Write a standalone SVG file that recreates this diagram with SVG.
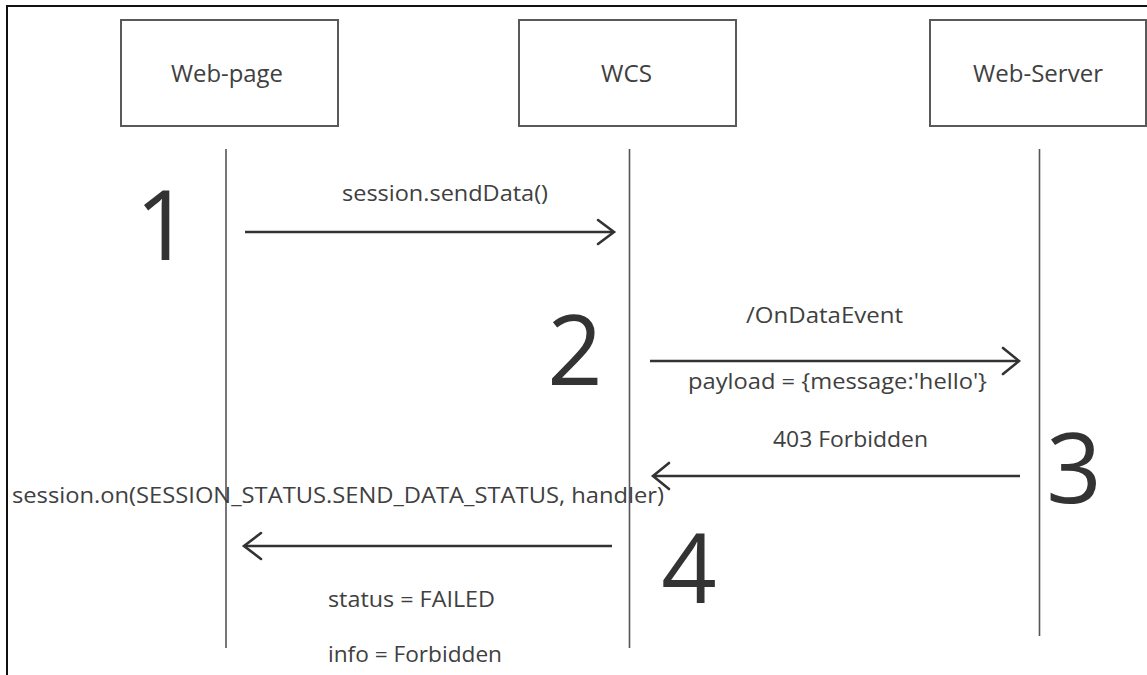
<svg xmlns="http://www.w3.org/2000/svg" width="1147" height="675" viewBox="0 0 1147 675">
<style>
.box{fill:#fff;stroke:#595959;stroke-width:2}
.lbl{font-family:"Open Sans","Noto Sans",sans-serif;font-size:23px;fill:#404040}
.msg{font-family:"Open Sans","Noto Sans",sans-serif;font-size:22px;fill:#404040}
.num{font-family:"Open Sans","Noto Sans",sans-serif;font-size:97px;fill:#333;text-anchor:middle}
.life{stroke:#555;stroke-width:1.6;fill:none}
.arr{stroke:#333;stroke-width:2.6;fill:none}
.head{stroke:#333;stroke-width:2.6;fill:none;stroke-linecap:round;stroke-linejoin:miter}
</style>
<rect x="0" y="0" width="1147" height="675" fill="#fff"/>
<path d="M7 675 V6 H1147" fill="none" stroke="#111" stroke-width="2"/>
<g id="web-page">
<rect class="box" x="121" y="20" width="217" height="106"/>
<text class="lbl" x="171" y="82" textLength="112" lengthAdjust="spacingAndGlyphs">Web-page</text>
<line class="life" x1="226" y1="149" x2="226" y2="648"/>
</g>
<g id="wcs">
<rect class="box" x="519" y="20" width="217" height="106"/>
<text class="lbl" x="601" y="82" textLength="51" lengthAdjust="spacingAndGlyphs">WCS</text>
<line class="life" x1="629.5" y1="149" x2="629.5" y2="648"/>
</g>
<g id="web-server">
<rect class="box" x="930" y="20" width="216" height="106"/>
<text class="lbl" x="973" y="82" textLength="130" lengthAdjust="spacingAndGlyphs">Web-Server</text>
<line class="life" x1="1039.5" y1="149" x2="1039.5" y2="636"/>
</g>
<g id="steps">
<text class="num" x="163" y="260">1</text>
<text class="num" x="575" y="385">2</text>
<text class="num" x="1074" y="503">3</text>
<text class="num" x="689" y="603">4</text>
</g>
<g id="connectors">
<line class="arr" x1="245" y1="232" x2="614" y2="232"/>
<path class="head" d="M598 220 L614 232 L598 244"/>
<line class="arr" x1="650" y1="361" x2="1019" y2="361"/>
<path class="head" d="M1003 348 L1019 361 L1003 374"/>
<line class="arr" x1="1020" y1="476" x2="653" y2="476"/>
<path class="head" d="M669 463 L653 476 L669 489"/>
<line class="arr" x1="612" y1="546" x2="244" y2="546"/>
<path class="head" d="M261 533 L244 546 L261 559"/>
</g>
<g id="labels">
<text class="msg" x="342" y="201" textLength="206" lengthAdjust="spacingAndGlyphs">session.sendData()</text>
<text class="msg" x="746" y="323" textLength="157" lengthAdjust="spacingAndGlyphs">/OnDataEvent</text>
<text class="msg" x="688" y="389" textLength="299" lengthAdjust="spacingAndGlyphs">payload = {message:'hello'}</text>
<text class="msg" x="773" y="447" textLength="155" lengthAdjust="spacingAndGlyphs">403 Forbidden</text>
<text class="msg" x="12" y="503" textLength="652" lengthAdjust="spacingAndGlyphs">session.on(SESSION_STATUS.SEND_DATA_STATUS, handler)</text>
<text class="msg" x="328" y="607" textLength="167" lengthAdjust="spacingAndGlyphs">status = FAILED</text>
<text class="msg" x="328" y="662" textLength="174" lengthAdjust="spacingAndGlyphs">info = Forbidden</text>
</g>
</svg>
